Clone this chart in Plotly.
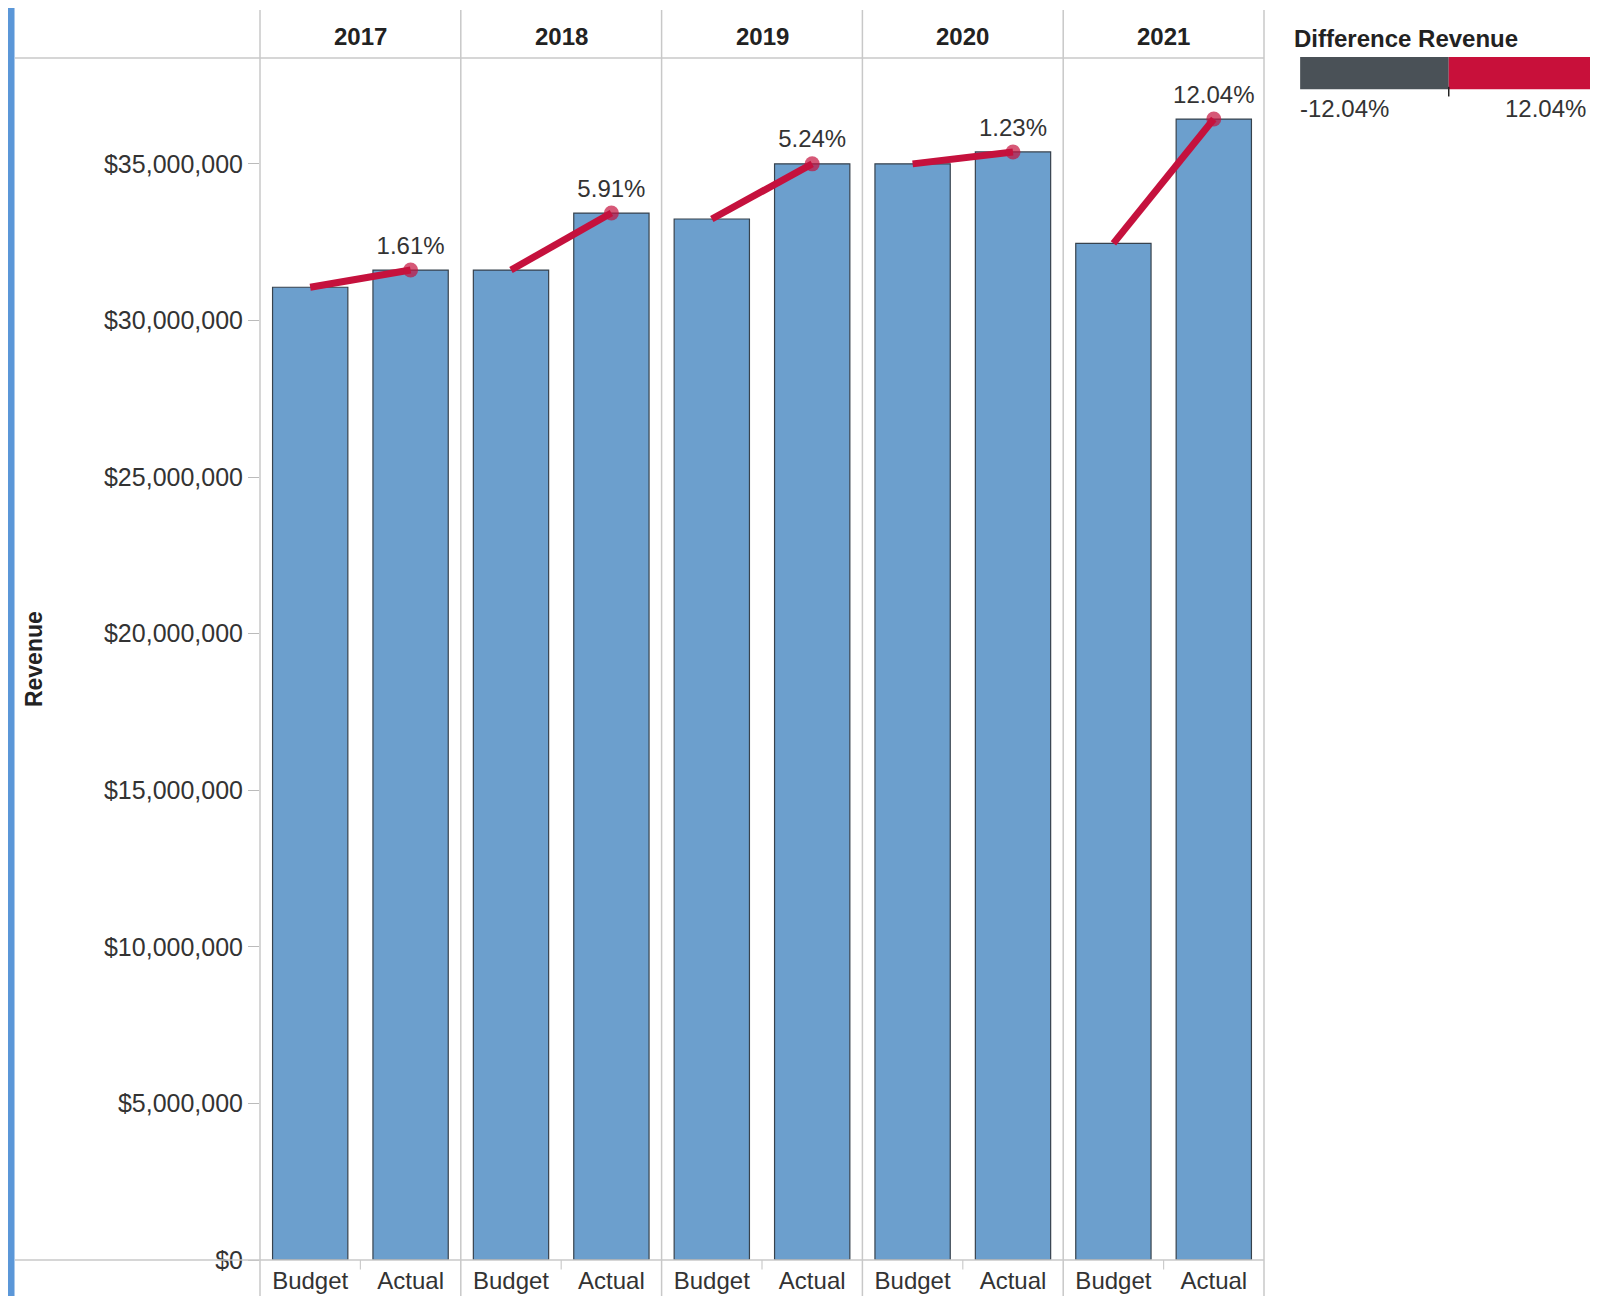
import plotly.graph_objects as go
from plotly.subplots import make_subplots

years = ["2017", "2018", "2019", "2020", "2021"]
scenarios = ["Budget", "Actual"]
budget = [31060000, 31610000, 33240000, 35000000, 32460000]
actual = [31610000, 33430000, 35000000, 35380000, 36430000]
diff_labels = ["1.61%", "5.91%", "5.24%", "1.23%", "12.04%"]
legend_min_label = "-12.04%"
legend_max_label = "12.04%"

FONT = "Liberation Sans, Arial, sans-serif"
BAR = "#6c9fcd"
RED = "#c5113d"
GRID = "#c8c8c8"

fig = make_subplots(rows=1, cols=5, shared_yaxes=True, horizontal_spacing=0)

for i, yr in enumerate(years):
    col = i + 1
    fig.add_trace(go.Bar(
        x=scenarios, y=[budget[i], actual[i]],
        marker=dict(color=BAR, line=dict(color="#37424d", width=1.2)),
        showlegend=False, hoverinfo="y"), row=1, col=col)
    fig.add_trace(go.Scatter(
        x=scenarios, y=[budget[i], actual[i]],
        mode="lines+markers+text",
        line=dict(color=RED, width=7),
        marker=dict(color=RED, size=[0, 15], line=dict(width=0)),
        text=["", diff_labels[i]],
        textposition="top center",
        textfont=dict(family=FONT, size=24, color="#333333"),
        cliponaxis=False,
        showlegend=False, hoverinfo="skip"), row=1, col=col)

fig.update_yaxes(range=[0, 38380000], tickformat="$,.0f", tickvals=[0, 5e6, 1e7, 1.5e7, 2e7, 2.5e7, 3e7, 3.5e7],
                 ticks="outside", ticklen=11, tickcolor="#bbbbbb",
                 showgrid=False, zeroline=False, showline=False, automargin=False,
                 tickfont=dict(family=FONT, size=25, color="#333333"))
for c in range(2, 6):
    fig.update_yaxes(ticks="", row=1, col=c)
fig.update_xaxes(showgrid=False, zeroline=False, showline=False, automargin=False,
                 ticks="", ticklabelstandoff=4,
                 tickfont=dict(family=FONT, size=24, color="#333333"))
fig.update_layout(bargap=0.25)

shapes = []
# left blue strip
shapes.append(dict(type="rect", xref="paper", yref="paper", x0=-0.252, x1=-0.2445, y0=-0.04, y1=1.06,
                   fillcolor="#5b97d8", line=dict(width=0), layer="above"))
# panel dividers
for k in range(6):
    shapes.append(dict(type="line", xref="paper", yref="paper", x0=k / 5, x1=k / 5, y0=-0.04, y1=1.04,
                       line=dict(color=GRID, width=1.5), layer="above"))
# small separators between Budget and Actual below the axis
for k in range(5):
    xr = "x domain" if k == 0 else f"x{k + 1} domain"
    shapes.append(dict(type="line", xref=xr, yref="paper", x0=0.5, x1=0.5, y0=0, y1=-0.008,
                       line=dict(color="#cccccc", width=1.2), layer="above"))
# header and bottom lines
for yy in (1.0, 0.0):
    shapes.append(dict(type="line", xref="paper", yref="paper", x0=-0.244, x1=1.0, y0=yy, y1=yy,
                       line=dict(color=GRID, width=1.5), layer="above"))
# color legend
shapes.append(dict(type="rect", xref="paper", yref="paper", x0=1.036, x1=1.184, y0=0.974, y1=1.0008,
                   fillcolor="#4a5157", line=dict(width=0)))
shapes.append(dict(type="rect", xref="paper", yref="paper", x0=1.184, x1=1.34, y0=0.974, y1=1.0008,
                   fillcolor="#c8103a", line=dict(width=0)))
shapes.append(dict(type="line", xref="paper", yref="paper", x0=1.184, x1=1.184, y0=0.968, y1=0.976,
                   line=dict(color="#222222", width=1.5)))

annotations = []
for i, yr in enumerate(years):
    annotations.append(dict(text=f"<b>{yr}</b>", xref="paper", yref="paper", x=(i + 0.5) / 5, y=1.0183,
                            showarrow=False, font=dict(family=FONT, size=24, color="#222222"),
                            xanchor="center", yanchor="middle"))
annotations.append(dict(text="<b>Revenue</b>", xref="paper", yref="paper", x=-0.225, y=0.5, textangle=-90,
                        showarrow=False, font=dict(family=FONT, size=23, color="#222222"),
                        xanchor="center", yanchor="middle"))
annotations.append(dict(text="<b>Difference Revenue</b>", xref="paper", yref="paper", x=1.028, y=1.0166,
                        showarrow=False, font=dict(family=FONT, size=24, color="#222222"),
                        xanchor="left", yanchor="middle"))
annotations.append(dict(text=legend_min_label, xref="paper", yref="paper", x=1.034, y=0.958,
                        showarrow=False, font=dict(family=FONT, size=24, color="#333333"),
                        xanchor="left", yanchor="middle"))
annotations.append(dict(text=legend_max_label, xref="paper", yref="paper", x=1.3225, y=0.958,
                        showarrow=False, font=dict(family=FONT, size=24, color="#333333"),
                        xanchor="right", yanchor="middle"))

fig.update_layout(
    width=1582, height=1288,
    margin=dict(l=252, r=326, t=50, b=36),
    paper_bgcolor="white", plot_bgcolor="white",
    shapes=shapes, annotations=annotations,
    font=dict(family=FONT),
)

fig.write_html("out.html")
